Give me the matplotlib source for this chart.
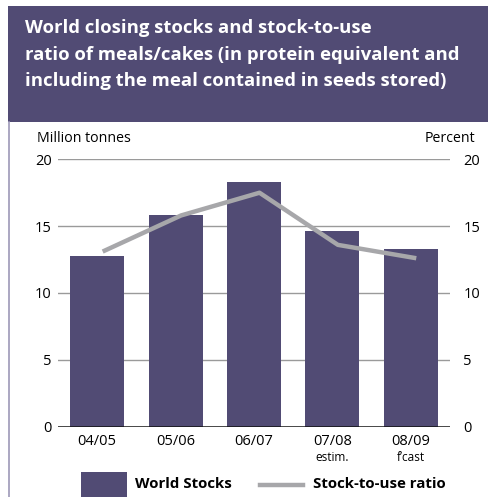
import matplotlib.pyplot as plt
from matplotlib.patches import Rectangle
from matplotlib.lines import Line2D

plt.rcParams['font.family'] = ['Open Sans', 'DejaVu Sans']

seasons = ['04/05', '05/06', '06/07', '07/08', '08/09']
season_notes = ['', '', '', 'estim.', 'f\u2019cast']
world_stocks = [12.8, 15.8, 18.3, 14.6, 13.3]
stock_to_use = [13.1, 15.8, 17.5, 13.6, 12.6]

purple = '#514B74'
grey_line = '#A7A7AA'

W, H = 488, 497
fig = plt.figure(figsize=(W / 100, H / 100), dpi=100)
fig.patch.set_facecolor('white')

# header block
fig.add_artist(Rectangle((8 / W, 1 - 122 / H), 1, 116 / H, transform=fig.transFigure,
                         facecolor=purple, edgecolor='none'))
fig.add_artist(Line2D([9 / W, 9 / W], [0, 1 - 122 / H], transform=fig.transFigure,
                      color='#9D98B8', lw=1.2))
title_lines = ['World closing stocks and stock-to-use',
               'ratio of meals/cakes (in protein equivalent and',
               'including the meal contained in seeds stored)']
for i, line in enumerate(title_lines):
    fig.text(25 / W, 1 - (28 + 26.5 * i) / H, line, color='white', fontsize=13.3,
             fontweight='bold', va='center', ha='left')

ax = fig.add_axes([58 / W, 70.3 / H, 392 / W, 267.4 / H])
x = range(len(seasons))
ax.bar(x, world_stocks, width=0.69, color=purple, zorder=2)
ax.plot([i + 0.07 for i in x], stock_to_use, color=grey_line, lw=3.2,
        solid_capstyle='butt', zorder=3)

ax.set_xlim(-0.5, 4.5)
ax.set_ylim(0, 20)
ax.set_yticks([0, 5, 10, 15, 20])
for y in [5, 10, 15, 20]:
    ax.axhline(y, color='#9A9A9A', lw=1.0, zorder=1)
ax.axhline(0, color='#111111', lw=1.8, zorder=4)
for s in ax.spines.values():
    s.set_visible(False)
ax.tick_params(axis='y', length=0, pad=4.5, labelsize=10.5)
ax.set_xticks([])

ax2 = ax.twinx()
ax2.set_ylim(0, 20)
ax2.set_yticks([0, 5, 10, 15, 20])
for s in ax2.spines.values():
    s.set_visible(False)
ax2.tick_params(axis='y', length=0, pad=9.5, labelsize=10.5)

for i, (lab, note) in enumerate(zip(seasons, season_notes)):
    ax.text(i, -0.55, lab, ha='center', va='top', fontsize=10.5)
    if note:
        ax.text(i, -1.8, note, ha='center', va='top', fontsize=8.5)

fig.text(37 / W, 1 - 139 / H, 'Million tonnes', fontsize=10.2, ha='left', va='center')
fig.text(475 / W, 1 - 139 / H, 'Percent', fontsize=10.2, ha='right', va='center')

# legend
fig.add_artist(Rectangle((81 / W, 0), 46 / W, 25 / H, transform=fig.transFigure,
                         facecolor=purple, edgecolor='none'))
fig.text(135 / W, 1 - 484 / H, 'World Stocks', fontsize=10.8, fontweight='bold',
         ha='left', va='center')
fig.add_artist(Line2D([260 / W, 303 / W], [1 - 485 / H, 1 - 485 / H],
                      transform=fig.transFigure, color=grey_line, lw=3.2))
fig.text(313 / W, 1 - 484 / H, 'Stock-to-use ratio', fontsize=10.8, fontweight='bold',
         ha='left', va='center')

fig.savefig('out.png', dpi=100)
